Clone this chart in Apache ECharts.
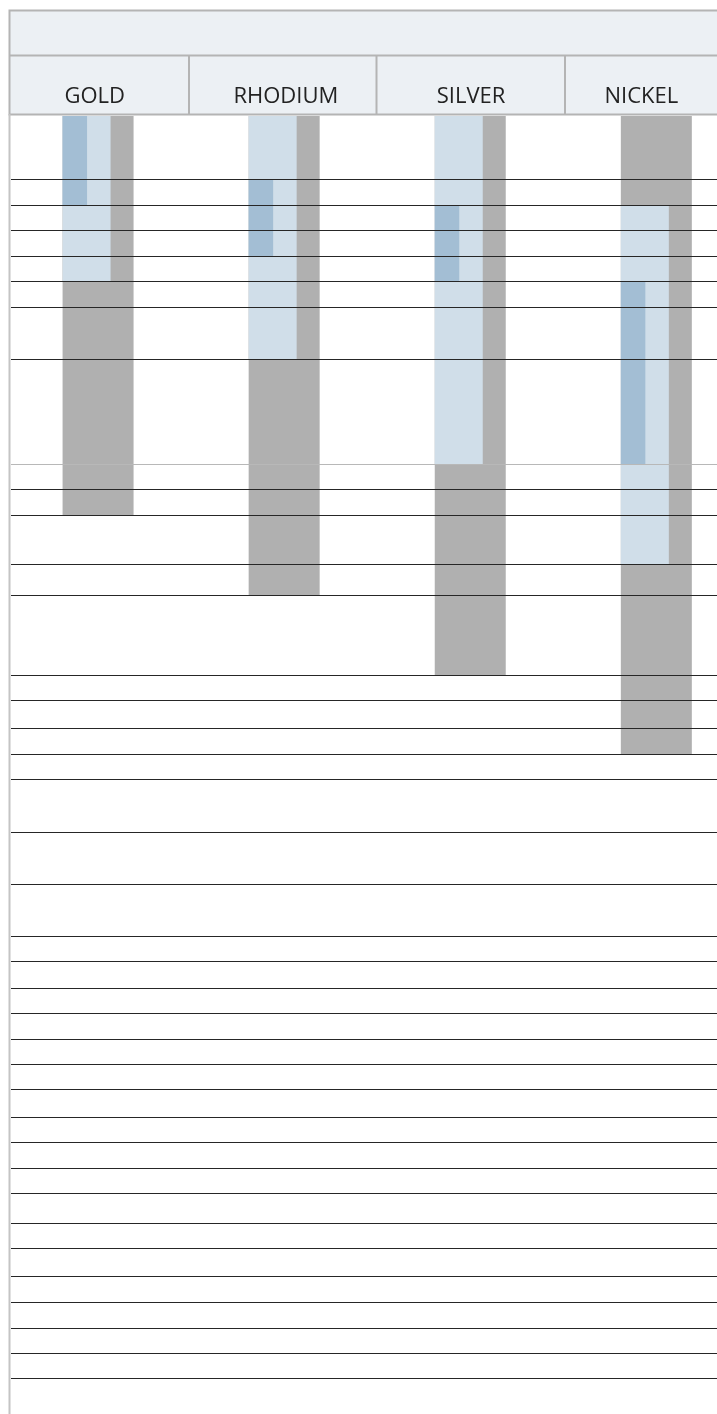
<!DOCTYPE html>
<html><head><meta charset="utf-8">
<script src="https://cdn.jsdelivr.net/npm/echarts@6/dist/echarts.min.js"></script>
<style>html,body{margin:0;padding:0;background:#fff}#c{width:717px;height:1414px}</style>
</head><body><div id="c"></div>
<script>
// ---- data (downward value scale, 0 = top of the plot) ----
const categories = ['GOLD', 'RHODIUM', 'SILVER', 'NICKEL'];
const greyStart  = [0, 0, 0, 0];
const greyEnd    = [39.93, 47.97, 55.9, 63.8];
const lightStart = [0, 0, 0, 8.97];
const lightEnd   = [16.53, 24.33, 34.8, 44.87];
const darkStart  = [0, 6.3, 8.97, 16.53];
const darkEnd    = [8.97, 14.0, 16.53, 34.8];
const ruleValues = [6.3, 8.97, 11.47, 14.0, 16.53, 19.1, 24.33, 34.8, 37.37, 39.93, 44.87, 47.97,
  55.9, 58.43, 61.23, 63.8, 66.33, 71.63, 76.8, 82.0, 84.57, 87.23, 89.77, 92.3, 94.83, 97.37,
  100.1, 102.63, 105.23, 107.77, 110.73, 113.27, 116.07, 118.6, 121.2, 123.73, 126.27];
const faintRules = [34.8];
const yMax = 129.8;

// ---- styles / layout ----
const headerLabelX = [94.7, 285.8, 471, 641.3];
const GREY = '#B0B0B0', LIGHT = '#D0DEE9', DARK = '#A3BED4';
const BORDER = '#B4B4B4';
const xMin = -0.527, xMax = 3.326;

function rangeSeries(name, starts, ends, color, widthPx, z) {
  return {
    type: 'custom', name: name, xAxisIndex: 1, yAxisIndex: 1, z: z, silent: true, clip: false,
    data: categories.map((c, i) => [i, starts[i], ends[i]]),
    encode: { x: 0, y: [1, 2] },
    renderItem: function (params, api) {
      const p0 = api.coord([api.value(0), api.value(1)]);
      const p1 = api.coord([api.value(0), api.value(2)]);
      const left = p0[0] - 35.5;
      return { type: 'rect', shape: { x: left, y: p0[1], width: widthPx, height: p1[1] - p0[1] },
               style: { fill: color } };
    }
  };
}

const chart = echarts.init(document.getElementById('c'), null, { renderer: 'canvas' });
const graphics = [
  { type: 'rect', shape: { x: 9.5, y: 10.5, width: 730, height: 104 },
    style: { fill: '#ECF0F4', stroke: BORDER, lineWidth: 2 }, z: 10 },
  { type: 'line', shape: { x1: 9.5, y1: 55.5, x2: 740, y2: 55.5 }, style: { stroke: BORDER, lineWidth: 2 }, z: 11 },
  { type: 'line', shape: { x1: 189, y1: 56, x2: 189, y2: 114 }, style: { stroke: BORDER, lineWidth: 2 }, z: 11 },
  { type: 'line', shape: { x1: 376.5, y1: 56, x2: 376.5, y2: 114 }, style: { stroke: BORDER, lineWidth: 2 }, z: 11 },
  { type: 'line', shape: { x1: 565, y1: 56, x2: 565, y2: 114 }, style: { stroke: BORDER, lineWidth: 2 }, z: 11 },
  { type: 'line', shape: { x1: 9.5, y1: 114, x2: 9.5, y2: 1414 }, style: { stroke: '#C4C4C4', lineWidth: 2 }, z: 11 }
];
categories.forEach((c, i) => {
  graphics.push({ type: 'text', x: headerLabelX[i], y: 97, z: 12,
    style: { text: c, fill: '#222', font: '22px "Open Sans", sans-serif', align: 'center', verticalAlign: 'middle' } });
});

chart.setOption({
  animation: false,
  backgroundColor: '#fff',
  grid: [
    { left: 11, right: 0, top: 116, bottom: 0 },
    { left: 0, right: 0, top: 116, bottom: 0 }
  ],
  xAxis: [
    { gridIndex: 0, type: 'value', min: 0, max: 1, show: false },
    { gridIndex: 1, type: 'value', min: xMin, max: xMax, show: false }
  ],
  yAxis: [
    { gridIndex: 0, type: 'value', inverse: true, min: 0, max: yMax, show: false },
    { gridIndex: 1, type: 'value', inverse: true, min: 0, max: yMax, show: false }
  ],
  graphic: graphics,
  series: [
    { type: 'line', xAxisIndex: 0, yAxisIndex: 0, data: [], z: 1, silent: true,
      markLine: { silent: true, symbol: 'none', label: { show: false },
        data: ruleValues.map(v => ({ yAxis: v,
          lineStyle: { color: faintRules.includes(v) ? '#B8B8B8' : '#262626', width: 1.2, type: 'solid' } })) } },
    rangeSeries('grey', greyStart, greyEnd, GREY, 71, 2),
    rangeSeries('light', lightStart, lightEnd, LIGHT, 48, 3),
    rangeSeries('dark', darkStart, darkEnd, DARK, 24.5, 4)
  ]
});
</script></body></html>
